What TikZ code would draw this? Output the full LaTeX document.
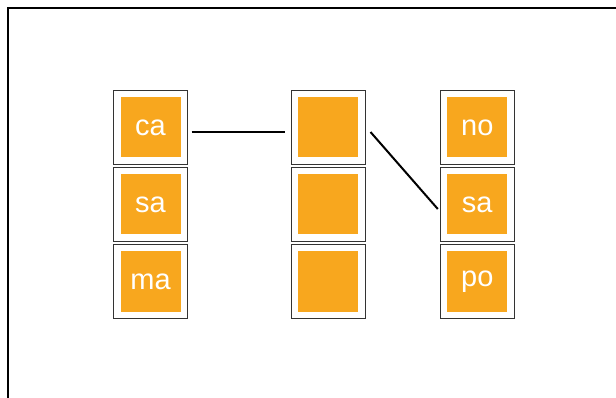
\documentclass[tikz,border=0pt]{standalone}
\usepackage{fontspec}
\setmainfont{Liberation Sans}
\usetikzlibrary{positioning}
\definecolor{boxorange}{RGB}{248,167,30}
\tikzset{
  cell/.style={draw=black!80, line width=1pt, fill=white, minimum size=74pt,
    inner sep=0pt, outer sep=0pt, text=white,
    font=\fontsize{29}{34}\selectfont,
    path picture={\fill[boxorange]
      ([shift={(7pt,-7pt)}]path picture bounding box.north west) rectangle
      ([shift={(-7pt,7pt)}]path picture bounding box.south east);}},
  link/.style={line width=2pt}
}
\begin{document}
\begin{tikzpicture}[x=1pt, y=-1pt, node distance=3pt]
  \useasboundingbox (0,0) rectangle (616,398);
  \draw [line width=2pt] (7.5,398) -- (7.5,8.5) -- (616,8.5);
  % left column
  \node [cell] (l1) at (150.5,127.5) {ca};
  \node [cell, below=of l1] (l2) {sa};
  \node [cell, below=of l2] (l3) {ma};
  % middle column
  \node [cell] (m1) at (328,127.5) {};
  \node [cell, below=of m1] (m2) {};
  \node [cell, below=of m2] (m3) {};
  % right column
  \node [cell] (r1) at (477.3,127.5) {no};
  \node [cell, below=of r1] (r2) {sa};
  \node [cell, below=of r2] (r3) {po};
  % links
  \draw [link] ([shift={(4pt,-4.5pt)}]l1.east) -- ([shift={(-6pt,-4.5pt)}]m1.west);
  \draw [link] ([shift={(5.5pt,-4.5pt)}]m1.east) -- ([shift={(-2.5pt,-4.5pt)}]r2.west);
\end{tikzpicture}
\end{document}
